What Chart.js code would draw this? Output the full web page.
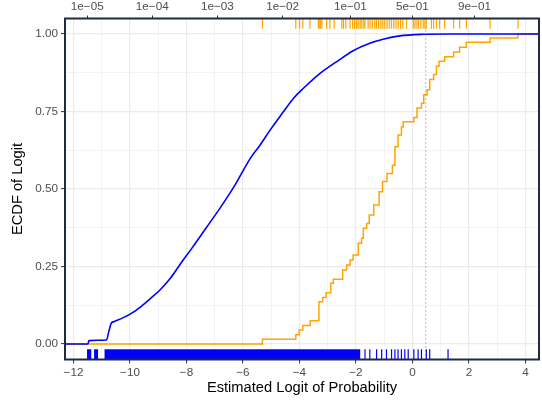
<!DOCTYPE html>
<html>
<head>
<meta charset="utf-8">
<script src="https://cdn.jsdelivr.net/npm/chart.js@4.4.1/dist/chart.umd.min.js"></script>
<style>
  html, body { margin: 0; padding: 0; background: #fff; }
</style>
</head>
<body>
<canvas id="chart" width="542" height="402"></canvas>
<script>
// axis limits (logit scale) and tick values
const xMin = -12.3, xMax = 4.48;
const yMin = -0.05, yMax = 1.05;
const xMajor = [-12, -10, -8, -6, -4, -2, 0, 2, 4];
const xMinor = [-11, -9, -7, -5, -3, -1, 1, 3];
const yMajor = [0, 0.25, 0.5, 0.75, 1];
const yMinor = [0.125, 0.375, 0.625, 0.875];
const probTicks = [1e-5, 1e-4, 1e-3, 1e-2, 1e-1, 0.5, 0.9];
const probLabels = ['1e\u221205', '1e\u221204', '1e\u221203', '1e\u221202', '1e\u221201', '5e\u221201', '9e\u221201'];
const cutoff = 0.47;

// blue ECDF (large sample)
const blueX = [xMin, -11.49, -11.45, -10.83, -10.75, -10.66, -10.57, -10.33, -9.98, -9.62, -9.27, -8.92, -8.57, -8.24,
  -7.8, -7.3, -6.8, -6.3, -5.74, -5.39, -5.04, -4.57, -4.21, -3.86, -3.27, -2.68, -2.10, -1.51, -1.04, -0.45, 0.37, 1.26, xMax];
const blueF = [0, 0, 0.011, 0.013, 0.04, 0.067, 0.072, 0.081, 0.097, 0.12, 0.147, 0.176, 0.212, 0.255,
  0.31, 0.375, 0.44, 0.51, 0.599, 0.642, 0.69, 0.749, 0.793, 0.825, 0.873, 0.911, 0.946, 0.97, 0.983, 0.994, 0.999, 1, 1];

// orange ECDF steps (small sample)
const orangeX = [xMin, -5.31, -4.13, -4.01, -3.88, -3.62, -3.31, -3.18, -3.06, -2.89, -2.80, -2.47, -2.33, -2.21, -2.10,
  -1.92, -1.80, -1.74, -1.62, -1.53, -1.37, -1.18, -1.06, -0.90, -0.71, -0.62, -0.51, -0.39, -0.33, 0.05, 0.16, 0.32,
  0.40, 0.52, 0.61, 0.75, 0.85, 0.94, 1.14, 1.46, 1.67, 1.91, 2.75, 3.73, xMax];
const orangeF = [0, 0.015, 0.030, 0.045, 0.060, 0.075, 0.136, 0.150, 0.165, 0.196, 0.209, 0.239, 0.255, 0.271, 0.287,
  0.325, 0.341, 0.373, 0.389, 0.416, 0.448, 0.491, 0.524, 0.550, 0.577, 0.636, 0.674, 0.700, 0.717, 0.731, 0.761, 0.777,
  0.804, 0.820, 0.853, 0.869, 0.896, 0.912, 0.927, 0.942, 0.957, 0.973, 0.987, 1.0, 1.0];

// rug values
const blueRugBands = [[-11.52, -11.37], [-11.27, -11.13], [-10.9, -1.85]];
const blueRug = [-1.68, -1.51, -1.27, -1.09, -0.92, -0.74, -0.62, -0.51, -0.39, -0.27, -0.15, 0.05, 0.20, 0.32, 0.49, 0.61, 1.26];
const orangeRug = [-5.31, -4.13, -4.00, -3.88, -3.63, -3.33, -3.30, -3.26, -3.21, -3.04, -2.92, -2.77, -2.50, -2.44, -2.36,
  -2.21, -2.12, -2.05, -1.98, -1.92, -1.85, -1.79, -1.72, -1.68, -1.57, -1.50, -1.42, -1.33, -1.27, -1.20, -1.12, -1.05,
  -0.98, -0.90, -0.82, -0.74, -0.66, -0.58, -0.50, -0.42, -0.34, -0.21, 0.03, 0.09, 0.16, 0.22, 0.30, 0.38, 0.44, 0.49,
  0.67, 0.75, 0.85, 0.96, 1.14, 1.46, 1.67, 1.91, 2.75, 3.74];

const BLUE = '#0000ff';
const ORANGE = '#ffa500';
const GRID = '#ebebeb';
const FONT = 'Liberation Sans, Arial, Helvetica, sans-serif';

const fmtNum = v => (v < 0 ? '\u2212' + Math.abs(v) : String(v));

// rugs, cutoff line and panel border
const extras = {
  id: 'extras',
  afterDatasetsDraw(chart) {
    const { ctx, chartArea: a, scales: { x } } = chart;
    const len = (a.bottom - a.top) * 0.03;
    ctx.save();
    ctx.beginPath();
    ctx.rect(a.left, a.top, a.right - a.left, a.bottom - a.top);
    ctx.clip();

    // dotted vertical line
    const cx = x.getPixelForValue(cutoff);
    ctx.strokeStyle = '#777777';
    ctx.lineWidth = 1;
    ctx.setLineDash([1, 3]);
    ctx.beginPath();
    ctx.moveTo(cx, a.top);
    ctx.lineTo(cx, a.bottom);
    ctx.stroke();
    ctx.setLineDash([]);

    // blue rug (bottom)
    ctx.fillStyle = BLUE;
    blueRugBands.forEach(([lo, hi]) => {
      const x0 = x.getPixelForValue(lo), x1 = x.getPixelForValue(hi);
      ctx.fillRect(x0, a.bottom - len, x1 - x0, len);
    });
    ctx.strokeStyle = BLUE;
    ctx.lineWidth = 1.2;
    blueRug.forEach(v => {
      const px = x.getPixelForValue(v);
      ctx.beginPath();
      ctx.moveTo(px, a.bottom);
      ctx.lineTo(px, a.bottom - len);
      ctx.stroke();
    });

    // orange rug (top)
    ctx.strokeStyle = ORANGE;
    orangeRug.forEach(v => {
      const px = x.getPixelForValue(v);
      ctx.beginPath();
      ctx.moveTo(px, a.top);
      ctx.lineTo(px, a.top + len);
      ctx.stroke();
    });
    ctx.restore();

    // panel border
    ctx.save();
    ctx.strokeStyle = '#1f2a44';
    ctx.lineWidth = 2;
    ctx.strokeRect(a.left, a.top, a.right - a.left, a.bottom - a.top);
    ctx.restore();
  }
};

new Chart(document.getElementById('chart'), {
  type: 'line',
  data: {
    datasets: [
      {
        data: blueX.map((v, i) => ({ x: v, y: blueF[i] })),
        borderColor: BLUE,
        borderWidth: 1.6,
        pointRadius: 0,
        cubicInterpolationMode: 'monotone'
      },
      {
        data: orangeX.map((v, i) => ({ x: v, y: orangeF[i] })),
        borderColor: ORANGE,
        borderWidth: 1.5,
        pointRadius: 0,
        stepped: 'before'
      }
    ]
  },
  options: {
    responsive: false,
    animation: false,
    layout: { padding: { left: 0, right: 3, top: 0, bottom: 0 } },
    plugins: { legend: { display: false }, tooltip: { enabled: false } },
    scales: {
      x: {
        type: 'linear',
        position: 'bottom',
        min: xMin,
        max: xMax,
        afterBuildTicks: s => { s.ticks = [...xMajor, ...xMinor].sort((a, b) => a - b).map(v => ({ value: v })); },
        afterFit: s => { s.height = 42.5; },
        ticks: {
          autoSkip: false,
          maxRotation: 0,
          padding: 2,
          color: '#4d4d4d',
          font: { family: FONT, size: 11.7 },
          callback: v => (xMajor.includes(v) ? fmtNum(v) : '')
        },
        grid: {
          color: GRID,
          lineWidth: c => (xMajor.includes(c.tick.value) ? 1.2 : 0.6),
          tickLength: 4,
          tickWidth: 1,
          tickColor: c => (xMajor.includes(c.tick.value) ? '#333333' : 'rgba(0,0,0,0)')
        },
        border: { display: false },
        title: {
          display: true,
          text: 'Estimated Logit of Probability',
          color: '#000',
          font: { family: FONT, size: 14.7 },
          padding: { top: 0, bottom: 5 }
        }
      },
      x2: {
        type: 'linear',
        position: 'top',
        min: xMin,
        max: xMax,
        afterBuildTicks: s => { s.ticks = probTicks.map(p => ({ value: Math.log(p / (1 - p)) })); },
        afterFit: s => { s.height = 18.5; },
        ticks: {
          autoSkip: false,
          maxRotation: 0,
          padding: 2,
          color: '#4d4d4d',
          font: { family: FONT, size: 11.7 },
          callback: (v, i) => probLabels[i]
        },
        grid: { drawOnChartArea: false, tickLength: 3, tickWidth: 1, tickColor: '#333333' },
        border: { display: false }
      },
      y: {
        type: 'linear',
        min: yMin,
        max: yMax,
        afterBuildTicks: s => { s.ticks = [...yMajor, ...yMinor].sort((a, b) => a - b).map(v => ({ value: v })); },
        afterFit: s => { s.width = 65; },
        ticks: {
          autoSkip: false,
          padding: 3,
          color: '#4d4d4d',
          font: { family: FONT, size: 11.7 },
          callback: v => (yMajor.includes(v) ? v.toFixed(2) : '')
        },
        grid: {
          color: GRID,
          lineWidth: c => (yMajor.includes(c.tick.value) ? 1.2 : 0.6),
          tickLength: 4,
          tickWidth: 1,
          tickColor: c => (yMajor.includes(c.tick.value) ? '#333333' : 'rgba(0,0,0,0)')
        },
        border: { display: false },
        title: {
          display: true,
          text: 'ECDF of Logit',
          color: '#000',
          font: { family: FONT, size: 14.7 },
          padding: { top: 9, bottom: 0 }
        }
      }
    }
  },
  plugins: [extras]
});
</script>
</body>
</html>
